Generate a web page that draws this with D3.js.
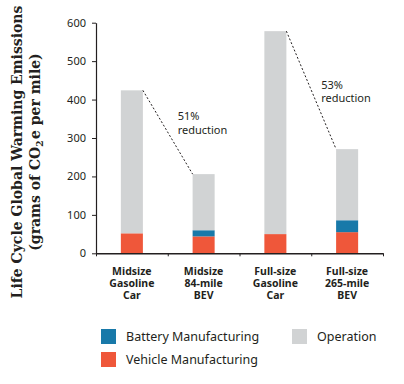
<!DOCTYPE html>
<html>
<head>
<meta charset="utf-8">
<script src="https://cdn.jsdelivr.net/npm/d3@7"></script>
<style>
  body { margin: 0; background: #fff; }
  svg { display: block; }
  text { fill: #231f20; font-family: "Noto Sans", sans-serif; }
  .axis path, .axis line { stroke: #231f20; }
  .axis text { font-size: 11px; }
  .catLabel { font-size: 10.5px; font-weight: bold; }
  .note { font-size: 11px; }
  .legendText { font-size: 12.5px; }
  .yTitle { font-family: "DejaVu Serif", serif; font-weight: bold; font-size: 14px; }
</style>
</head>
<body>
<script>
// categories, one entry per bar, split into label lines
var categories = ["Midsize Gasoline Car", "Midsize 84-mile BEV", "Full-size Gasoline Car", "Full-size 265-mile BEV"];
var categoryLines = [
    ["Midsize", "Gasoline", "Car"],
    ["Midsize", "84-mile", "BEV"],
    ["Full-size", "Gasoline", "Car"],
    ["Full-size", "265-mile", "BEV"]
];

// grams of CO2e per mile
var vehicleMfg = [52, 44, 50, 55];
var batteryMfg = [0, 16, 0, 31];
var operation = [372, 146, 528, 185];

var yTicks = [0, 100, 200, 300, 400, 500, 600];

// dashed comparison lines between gasoline and BEV bars
var reductions = [
    {from: 0, to: 1, pct: "51%"},
    {from: 2, to: 3, pct: "53%"}
];

var seriesKeys = ["vehicle", "battery", "operation"];
var seriesNames = {vehicle: "Vehicle Manufacturing", battery: "Battery Manufacturing", operation: "Operation"};
var colors = {vehicle: "#ef573a", battery: "#1879a9", operation: "#d1d3d4"};

window.onload = function(){

    var w = 404,
        h = 384;

    var svg = d3.select("body")
        .append("svg")
        .attr("width", w)
        .attr("height", h);

    // table for the stack
    var rows = categories.map(function(c, i){
        return {cat: c, vehicle: vehicleMfg[i], battery: batteryMfg[i], operation: operation[i]};
    });
    var stacked = d3.stack().keys(seriesKeys)(rows);

    // scales
    var x = d3.scaleBand()
        .domain(categories)
        .range([96, 383])
        .paddingInner(0.693)
        .paddingOuter(0.3465);

    var xEdge = d3.scaleLinear()
        .domain([0, categories.length])
        .range([96, 383]);

    var y = d3.scaleLinear()
        .domain([0, 600])
        .range([253.3, 22.7]);

    // bars
    svg.selectAll(".series")
        .data(stacked)
        .enter()
        .append("g")
        .attr("class", "series")
        .attr("fill", function(d){ return colors[d.key]; })
        .selectAll("rect")
        .data(function(d){ return d; })
        .enter()
        .append("rect")
        .attr("x", function(d){ return x(d.data.cat); })
        .attr("width", x.bandwidth())
        .attr("y", function(d){ return y(d[1]); })
        .attr("height", function(d){ return y(d[0]) - y(d[1]); });

    // y axis
    svg.append("g")
        .attr("class", "axis")
        .attr("transform", "translate(96,0)")
        .call(d3.axisLeft(y).tickValues(yTicks).tickSize(4).tickSizeOuter(0).tickPadding(6))
        .call(function(g){ g.select(".domain").attr("stroke-width", 1.2); });

    // x axis with ticks at the band edges
    svg.append("g")
        .attr("class", "axis")
        .attr("transform", "translate(0," + y(0) + ")")
        .call(d3.axisBottom(xEdge).ticks(categories.length).tickSize(3).tickSizeOuter(0).tickFormat(""))
        .call(function(g){ g.select(".domain").attr("stroke-width", 1.5); });

    // category labels
    var catLabels = svg.selectAll(".catLabel")
        .data(categories)
        .enter()
        .append("text")
        .attr("class", "catLabel")
        .attr("text-anchor", "middle")
        .attr("y", 275);

    catLabels.selectAll("tspan")
        .data(function(d, i){ return categoryLines[i].map(function(t){ return {t: t, c: d}; }); })
        .enter()
        .append("tspan")
        .attr("x", function(d){ return x(d.c) + x.bandwidth() / 2; })
        .attr("dy", function(d, j){ return j === 0 ? 0 : 12.2; })
        .text(function(d){ return d.t; });

    // reduction lines and notes
    var total = function(i){ return vehicleMfg[i] + batteryMfg[i] + operation[i]; };
    var x1 = function(d){ return x(categories[d.from]) + x.bandwidth(); },
        y1 = function(d){ return y(total(d.from)); },
        x2 = function(d){ return x(categories[d.to]); },
        y2 = function(d){ return y(total(d.to)); };

    svg.selectAll(".redLine")
        .data(reductions)
        .enter()
        .append("line")
        .attr("class", "redLine")
        .attr("x1", x1)
        .attr("y1", y1)
        .attr("x2", x2)
        .attr("y2", y2)
        .attr("stroke", "#231f20")
        .attr("stroke-width", 1)
        .attr("stroke-dasharray", "2,2");

    // note sits to the right of a point near the lower end of the line
    var t = 0.82;
    var noteX = function(d){ return x1(d) + t * (x2(d) - x1(d)) - 6; };

    var notes = svg.selectAll(".note")
        .data(reductions)
        .enter()
        .append("text")
        .attr("class", "note")
        .attr("y", function(d){ return y1(d) + t * (y2(d) - y1(d)) - 39; });

    notes.append("tspan")
        .attr("x", noteX)
        .text(function(d){ return d.pct; });

    notes.append("tspan")
        .attr("x", noteX)
        .attr("dy", 13.5)
        .text("reduction");

    // legend
    var legendItems = [
        {key: "battery", x: 101, y: 329},
        {key: "operation", x: 292, y: 329},
        {key: "vehicle", x: 101, y: 352}
    ];

    var legend = svg.selectAll(".legend")
        .data(legendItems)
        .enter()
        .append("g")
        .attr("class", "legend")
        .attr("transform", function(d){ return "translate(" + d.x + "," + d.y + ")"; });

    legend.append("rect")
        .attr("width", 15)
        .attr("height", 15)
        .attr("fill", function(d){ return colors[d.key]; });

    legend.append("text")
        .attr("class", "legendText")
        .attr("x", 25)
        .attr("y", 12)
        .text(function(d){ return seriesNames[d.key]; });

    // rotated y title
    var title = svg.append("text")
        .attr("class", "yTitle")
        .attr("text-anchor", "middle")
        .attr("transform", "translate(22,152) rotate(-90)");

    title.append("tspan")
        .attr("x", 0)
        .text("Life Cycle Global Warming Emissions");

    var line2 = title.append("tspan")
        .attr("x", 0)
        .attr("dy", 18);
    line2.append("tspan").text("(grams of CO");
    line2.append("tspan").attr("font-size", "9px").attr("dy", 3).text("2");
    line2.append("tspan").attr("dy", -3).attr("dx", 1.5).text("e per mile)");
};
</script>
</body>
</html>
